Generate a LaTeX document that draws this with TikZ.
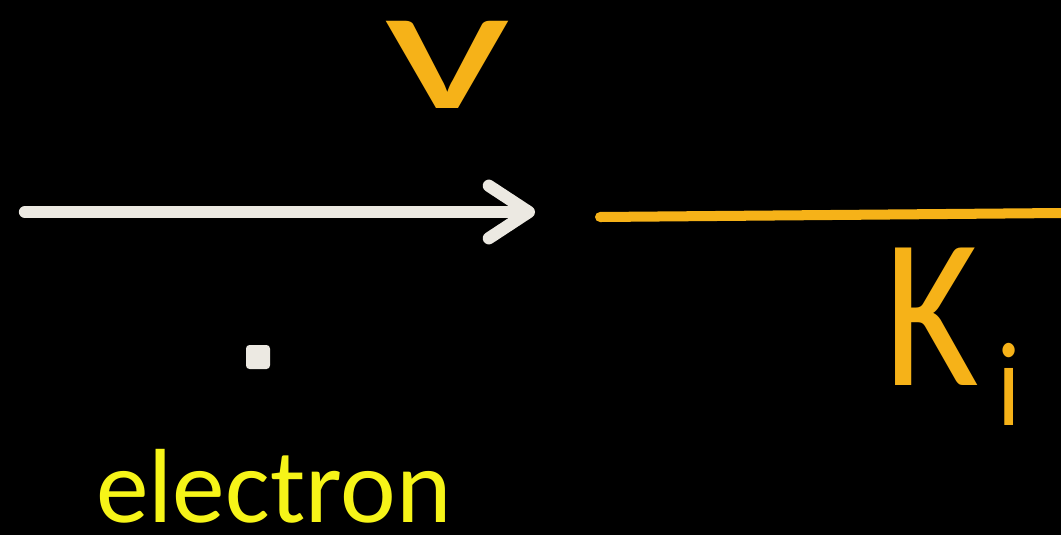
\documentclass[tikz,border=0pt]{standalone}
\usepackage{fontspec}
\setmainfont{Carlito}
\usetikzlibrary{arrows.meta}
\definecolor{chalkwhite}{RGB}{236,233,226}
\definecolor{chalkorange}{RGB}{246,178,24}
\definecolor{chalkyellow}{RGB}{246,244,24}

\begin{document}
\begin{tikzpicture}[x=0.02cm,y=-0.02cm,
    chalk/.style={line cap=round,line join=round},
    hand/.style={chalkorange,inner sep=0pt}]
    \useasboundingbox (0,0) rectangle (1061,535);
    \fill[black] (0,0) rectangle (1061,535);
    % velocity arrow
    \coordinate (tail) at (25,212);
    \coordinate (head) at (535,212);
    \draw[chalk,chalkwhite,line width=7pt,-{Straight Barb[length=0.8cm,width=1.05cm,round]}] (tail) -- (head);
    \node[hand,anchor=base,xscale=1.55,font=\fontsize{104}{104}\selectfont] (vel) at (447,108) {v};
    % kinetic energy line
    \coordinate (kstart) at (600,217);
    \coordinate (kend) at (1061,213);
    \draw[chalk,chalkorange,line width=5.7pt] (kstart) -- (kend);
    \node[hand,anchor=base west,xscale=0.85,font=\fontsize{122}{122}\selectfont] (kin) at (884,385)
        {K\hspace{0.1em}\raisebox{-0.8cm}{\fontsize{68}{68}\selectfont i}};
    % the electron
    \node[fill=chalkwhite,rounded corners=2pt,minimum size=0.48cm,inner sep=0pt] (dot) at (258,357) {};
    \node[chalkyellow,inner sep=0pt,anchor=base west,font=\fontsize{60}{60}\selectfont] (elabel) at (96,522) {electron};
\end{tikzpicture}
\end{document}
